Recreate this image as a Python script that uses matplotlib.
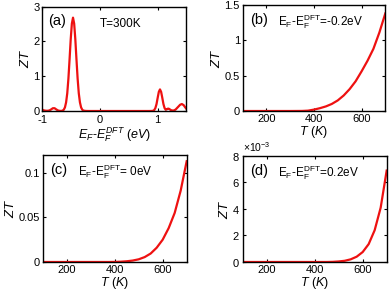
import matplotlib
matplotlib.use("Agg")
import matplotlib.pyplot as plt
from matplotlib.ticker import FuncFormatter, ScalarFormatter

# (a) ZT vs chemical potential at 300 K
ef_shift = [-1.0, -0.96, -0.92, -0.88, -0.85, -0.82, -0.79, -0.76, -0.73, -0.70, -0.67,
            -0.65, -0.63, -0.61, -0.59, -0.57, -0.55, -0.53, -0.51, -0.49, -0.47, -0.45,
            -0.43, -0.41, -0.39, -0.37, -0.35, -0.33, -0.31, -0.29, -0.25, -0.2, 0.2, 0.6,
            0.85, 0.9, 0.92, 0.94, 0.96, 0.98, 1.00, 1.02, 1.04, 1.06, 1.08, 1.10, 1.12,
            1.14, 1.16, 1.18, 1.20, 1.23, 1.27, 1.31, 1.35, 1.39, 1.42, 1.45, 1.48, 1.5]
zt_a = [0.03, 0.012, 0.005, 0.015, 0.045, 0.08, 0.08, 0.045, 0.015, 0.004, 0.003,
        0.012, 0.039, 0.105, 0.25, 0.51, 0.93, 1.48, 2.06, 2.51, 2.68, 2.51,
        2.06, 1.48, 0.93, 0.51, 0.25, 0.105, 0.039, 0.012, 0.002, 0.0, 0.0, 0.0,
        0.0, 0.002, 0.007, 0.027, 0.084, 0.20, 0.38, 0.55, 0.62, 0.55, 0.38, 0.20, 0.084,
        0.035, 0.05, 0.07, 0.06, 0.025, 0.01, 0.04, 0.11, 0.18, 0.20, 0.17, 0.10, 0.06]

# (b)-(d) ZT vs temperature
temp = [100, 150, 200, 250, 300, 350, 375, 400, 425, 450, 475, 500, 525, 550,
        575, 600, 625, 650, 675, 700]
zt_b = [0, 0, 0, 0, 0, 0.001, 0.005, 0.02, 0.04, 0.065, 0.10, 0.15, 0.22, 0.31,
        0.42, 0.56, 0.71, 0.88, 1.11, 1.38]
zt_c = [0, 0, 0, 0, 0, 0, 0, 0.0001, 0.0003, 0.0008, 0.0016, 0.003, 0.0055, 0.0095,
        0.016, 0.025, 0.038, 0.055, 0.080, 0.113]
zt_d = [0, 0, 0, 0, 0, 0, 0, 0, 0, 0, 0.00001, 0.00004, 0.00009, 0.0002,
        0.0004, 0.00075, 0.00135, 0.0024, 0.0041, 0.0069]

plt.rcParams['font.family'] = ['Liberation Sans', 'DejaVu Sans']
plt.rcParams['mathtext.fontset'] = 'custom'
plt.rcParams['mathtext.rm'] = 'Liberation Sans'
plt.rcParams['mathtext.it'] = 'Liberation Sans:italic'

fig = plt.figure(figsize=(3.92, 2.95), dpi=100)
ax_a = fig.add_axes([0.1084, 0.6237, 0.3673, 0.3542])
ax_b = fig.add_axes([0.6191, 0.6237, 0.3638, 0.3593])
ax_c = fig.add_axes([0.1089, 0.1119, 0.3673, 0.3627])
ax_d = fig.add_axes([0.6191, 0.1119, 0.3673, 0.3593])

red = '#ee1111'
fmt = FuncFormatter(lambda v, p: '%g' % v)

for ax in (ax_a, ax_b, ax_c, ax_d):
    ax.tick_params(direction='in', top=True, right=True, length=2.5, width=0.8,
                   labelsize=8, pad=2)
    for s in ax.spines.values():
        s.set_linewidth(1.0)
    ax.set_ylabel('$ZT$', fontsize=9.5, labelpad=1)

ax_a.plot(ef_shift, zt_a, color=red, lw=1.6)
ax_a.set_xlim(-1, 1.5)
ax_a.set_ylim(0, 3)
ax_a.set_xticks([-1, 0, 1])
ax_a.set_yticks([0, 1, 2, 3])
ax_a.xaxis.set_major_formatter(fmt)
ax_a.tick_params(axis='x', pad=3)
ax_a.set_xlabel(r'$E_F$-$E_F^{DFT}$ $(eV)$', fontsize=9, labelpad=0)
ax_a.text(0.04, 0.86, '(a)', transform=ax_a.transAxes, fontsize=10.5, va='center')
ax_a.text(0.40, 0.83, 'T=300K', transform=ax_a.transAxes, fontsize=8.5, va='center')

panels = [(ax_b, zt_b, '(b)', '=-0.2eV', 1.5, [0, 0.5, 1, 1.5]),
          (ax_c, zt_c, '(c)', '= 0eV', 0.12, [0, 0.05, 0.1]),
          (ax_d, zt_d, '(d)', '=0.2eV', 0.008, [0, 0.002, 0.004, 0.006, 0.008])]
for ax, zt, tag, val, ymax, yt in panels:
    ax.plot(temp, zt, color=red, lw=1.6)
    ax.set_xlim(100, 700)
    ax.set_ylim(0, ymax)
    ax.set_xticks([200, 400, 600])
    ax.set_yticks(yt)
    ax.set_xlabel('$T$ $(K)$', fontsize=9, labelpad=0)
    ax.text(0.05, 0.86, tag, transform=ax.transAxes, fontsize=10.5, va='center')
    ax.text(0.245, 0.84, r'E$_\mathrm{F}$-E$_\mathrm{F}^\mathrm{DFT}$' + val,
            transform=ax.transAxes, fontsize=8.5, va='center')

ax_b.yaxis.set_major_formatter(fmt)
ax_c.yaxis.set_major_formatter(fmt)
sf = ScalarFormatter(useMathText=True)
sf.set_powerlimits((-2, 2))
ax_d.yaxis.set_major_formatter(sf)
ax_d.yaxis.get_offset_text().set_fontsize(7.5)

fig.savefig('out.png', dpi=100)
